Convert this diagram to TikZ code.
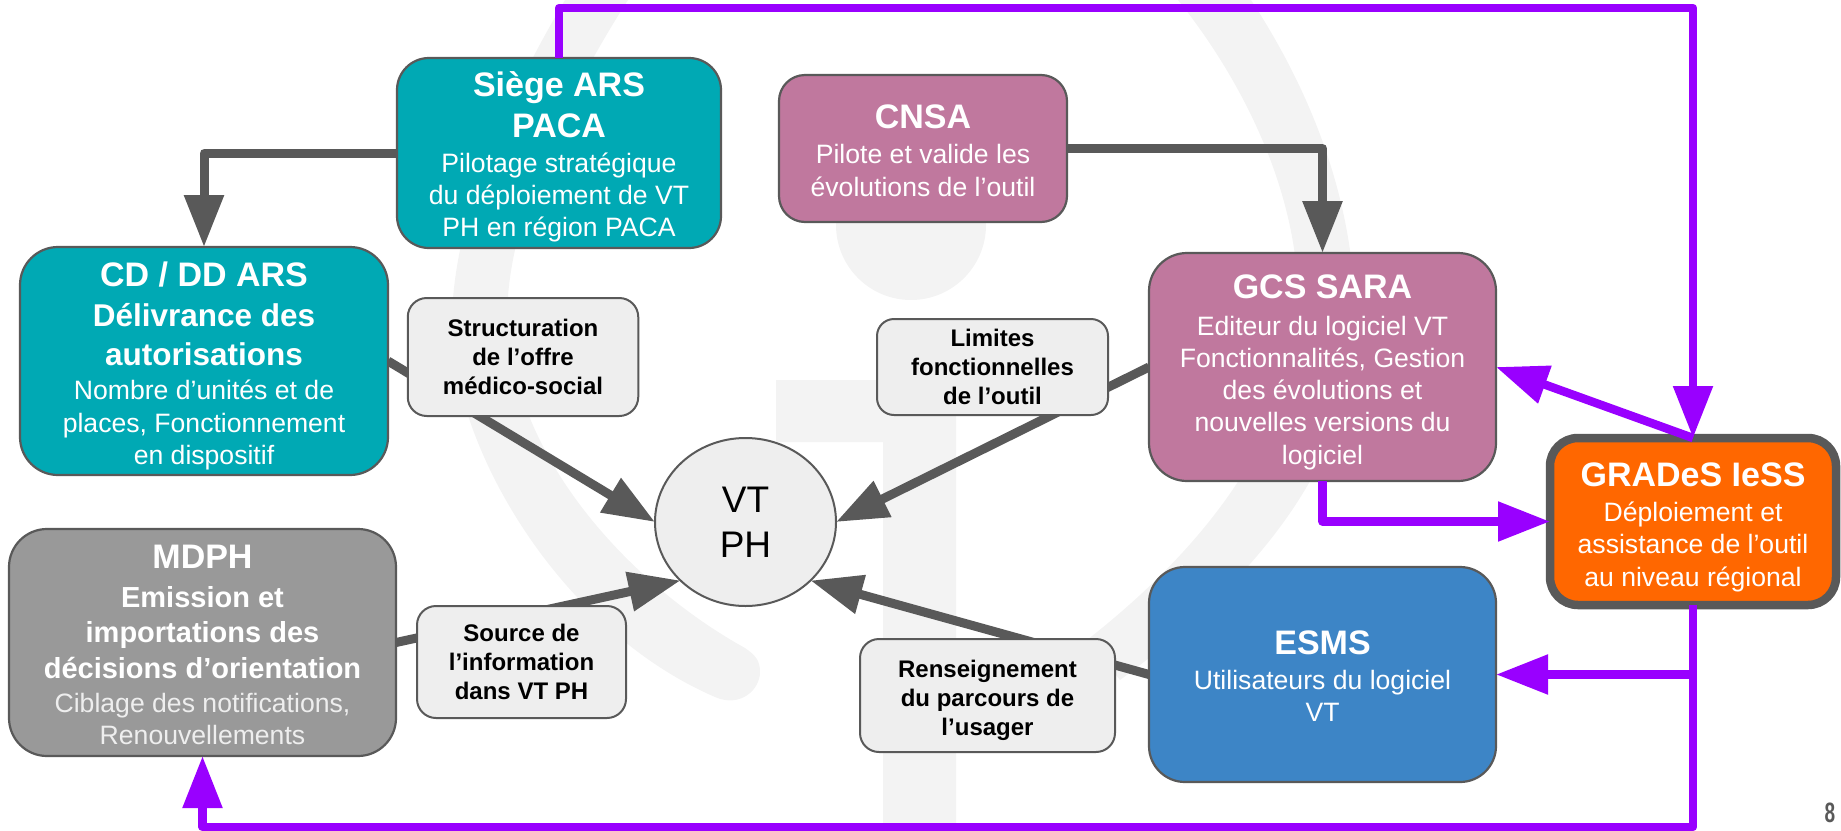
\documentclass[tikz,border=0pt]{standalone}
\usepackage{fontspec}
\usepackage{graphicx}
\setmainfont{Liberation Sans}
\usetikzlibrary{arrows.meta,shapes.geometric}
\pgfdeclarelayer{bg}
\pgfsetlayers{bg,main}
\definecolor{teal1}{HTML}{00A9B4}
\definecolor{pink1}{HTML}{C0789E}
\definecolor{blue1}{HTML}{3D85C6}
\definecolor{gray1}{HTML}{999999}
\definecolor{orange1}{HTML}{FF6700}
\definecolor{light1}{HTML}{EEEEEE}
\definecolor{edge1}{HTML}{595959}
\definecolor{violet1}{HTML}{9900FF}
\definecolor{mark1}{HTML}{F3F3F3}
\newcommand{\wsp}{\spaceskip=0.278em\relax}
\newcommand{\boxtitle}[1]{{\fontsize{34}{41}\selectfont\bfseries\wsp #1\par}}
\newcommand{\boxbold}[2][31.5]{{\fontsize{#1}{39.5}\selectfont\bfseries\wsp #2\par}}
\newcommand{\mdphbold}[1]{{\fontsize{29}{35.5}\selectfont\bfseries\wsp #1\par}}
\newcommand{\boxtext}[2][26.6]{{\fontsize{#1}{32.25}\selectfont\wsp #2\par}}
\newcommand{\labtext}[1]{{\fontsize{24}{29.3}\selectfont\bfseries\wsp #1\par}}
\newcommand{\shifted}[2]{\vskip#1pt #2\vskip-#1pt}
\tikzset{
  card/.style args={#1/#2/#3/#4}{draw=edge1,line width=2.2pt,fill=#1,text=white,
    rounded corners=#4,minimum width=#2,minimum height=#3,text width=#2-6pt,
    align=center,inner sep=0pt,outer sep=0pt,anchor=center},
  tag/.style args={#1/#2/#3}{draw=edge1,line width=2pt,fill=light1,text=black,
    rounded corners=#3,minimum width=#1,minimum height=#2,text width=#1-6pt,
    align=center,inner sep=0pt,outer sep=0pt,anchor=center},
  greyline/.style={draw=edge1,line width=9pt,line join=round,
    -{Triangle[length=52pt,width=38pt]}},
  violetline/.style={draw=violet1,line width=8.5pt,line join=round},
  violetarrow/.style={violetline,-{Triangle[length=52pt,width=38pt]}},
}
\begin{document}
\begin{tikzpicture}[x=1pt,y=-1pt]
\useasboundingbox (0,0) rectangle (1841,830);
% watermark
\begin{pgfonlayer}{bg}
\fill[mark1] (565,0) .. controls (500,110) and (450,230) .. (452,330)
  .. controls (455,450) and (560,630) .. (715,697)
  .. controls (740,708) and (760,690) .. (760,672)
  .. controls (760,660) and (755,655) .. (745,648)
  .. controls (640,590) and (520,470) .. (508,330)
  .. controls (500,230) and (570,90) .. (628,0) -- cycle;
\fill[mark1] (1178,0) .. controls (1250,90) and (1298,200) .. (1298,300)
  .. controls (1298,400) and (1240,520) .. (1087,640) -- (1120,680)
  .. controls (1270,570) and (1355,450) .. (1355,320)
  .. controls (1355,200) and (1310,90) .. (1251,0) -- cycle;
\fill[mark1] (911,225) circle[radius=75];
\fill[mark1] (776,380) -- (956,380) -- (956,830) -- (883,830) -- (883,442) -- (776,442) -- cycle;
\end{pgfonlayer}
% main boxes
\node[card={teal1/324pt/190pt/32pt}] (siege) at (559,153) {\shifted{-8.4}{\boxtitle{Siège ARS}\boxtitle{PACA}\vskip3pt\boxtext{Pilotage stratégique}\boxtext{du déploiement de VT}\boxtext{PH en région PACA}}};
\node[card={pink1/288pt/147pt/26pt}] (cnsa) at (923,148.5) {\shifted{-13.2}{\boxtitle{CNSA}\vskip3pt\boxtext{Pilote et valide les}\boxtext{évolutions de l’outil}}};
\node[card={teal1/368pt/228pt/38pt}] (cd) at (204,361) {\shifted{-6.5}{\boxtitle{CD / DD ARS}\boxbold{Délivrance des}\boxbold{autorisations}\vskip2pt\boxtext{Nombre d’unités et de}\boxtext{places, Fonctionnement}\boxtext{en dispositif}}};
\node[card={pink1/347pt/228pt/38pt}] (sara) at (1322.5,367) {\shifted{-6.6}{\boxtitle{GCS SARA}\vskip4pt\boxtext{Editeur du logiciel VT}\boxtext{Fonctionnalités, Gestion}\boxtext{des évolutions et}\boxtext{nouvelles versions du}\boxtext{logiciel}}};
\node[card={gray1/387pt/227pt/38pt}] (mdph) at (202.5,642.5) {\shifted{-12.5}{\boxtitle{MDPH}\vskip3pt\mdphbold{Emission et}\mdphbold{importations des}\mdphbold{décisions d’orientation}\vskip1.5pt\color{light1}\boxtext{Ciblage des notifications,}\boxtext{Renouvellements}}};
\node[card={blue1/347pt/215pt/36pt}] (esms) at (1322.5,674.5) {\shifted{-14}{\boxtitle{ESMS}\vskip3pt\boxtext{Utilisateurs du logiciel}\boxtext{VT}}};
\node[card={orange1/286pt/167pt/28pt},line width=8.5pt] (grades) at (1693,521.5) {\shifted{-6.1}{\boxtitle{GRADeS IeSS}\vskip3pt\boxtext{Déploiement et}\boxtext{assistance de l’outil}\boxtext{au niveau régional}}};
% centre
\node[draw=edge1,line width=2pt,fill=light1,ellipse,minimum width=181pt,minimum height=168pt,inner sep=0pt,outer sep=0pt,align=center,text width=120pt,font=\fontsize{37}{45}\selectfont] (vt) at (745.5,522) {VT\par PH\par};
% labels
\node[tag={230.5pt/118pt/19pt}] (lab1) at (523,357) {\labtext{Structuration}\labtext{de l’offre}\labtext{médico-social}};
\node[tag={231pt/96pt/17pt}] (lab2) at (992.5,367) {\labtext{Limites}\labtext{fonctionnelles}\labtext{de l’outil}};
\node[tag={209pt/112pt/19pt}] (lab3) at (521.5,662) {\labtext{Source de}\labtext{l’information}\labtext{dans VT PH}};
\node[tag={255pt/113pt/19pt}] (lab4) at (987.5,695.5) {\shifted{-2.5}{\labtext{Renseignement}\labtext{du parcours de}\labtext{l’usager}}};
% page number
\node[inner sep=0pt,text=edge1,font=\fontsize{28}{28}\selectfont\bfseries] (page) at (1830,813) {\scalebox{0.68}[1]{8}};
% routing levels
\coordinate (top) at (1000,8);
\coordinate (bot) at (1000,827);
% grey connectors (behind the labels)
\begin{pgfonlayer}{bg}
\draw[greyline] (siege.west) -| (cd.north);
\draw[greyline] (cnsa.east) -| (sara.north);
\draw[greyline] (cd.east) -- (vt.west);
\draw[greyline] (sara.west) -- (vt.east);
\draw[greyline] (mdph.east) -- (vt.222);
\draw[greyline] (esms.west) -- (vt.318);
\end{pgfonlayer}
% violet connectors
\draw[violetarrow] (siege.north) -- (siege.north |- top) -- (grades.north |- top) -- (grades.north);
\draw[violetarrow] (grades.north) -- (sara.east);
\draw[violetarrow] (sara.south) |- (grades.west);
\draw[violetarrow] (grades.south |- esms.east) -- (esms.east);
\draw[violetarrow] (grades.south) -- (grades.south |- bot) -- (mdph.south |- bot) -- (mdph.south);
\end{tikzpicture}
\end{document}
